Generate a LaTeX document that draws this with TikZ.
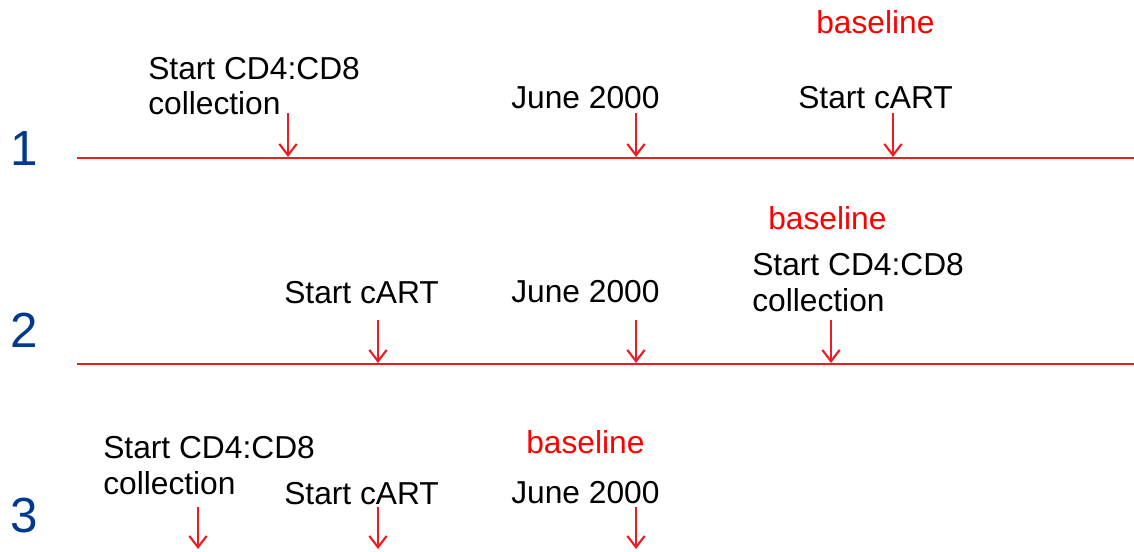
\documentclass[tikz,border=0pt]{standalone}
\usepackage{fontspec}
\setmainfont{Liberation Sans}
\usetikzlibrary{arrows.meta}
\definecolor{lred}{RGB}{237,28,36}
\definecolor{bred}{RGB}{255,0,0}
\definecolor{nblue}{RGB}{0,58,140}
\begin{document}
\begin{tikzpicture}[x=0.75pt,y=-0.75pt,
  lbl/.style={anchor=base west,inner sep=0pt,font=\fontsize{23.8}{28}\selectfont},
  base/.style={lbl,text=bred},
  num/.style={anchor=base west,inner sep=0pt,text=nblue,font=\fontsize{37}{40}\selectfont},
  tline/.style={draw=lred,line width=1.6pt},
  marker/.style={draw=lred,line width=1.6pt,-{Straight Barb[length=8.5pt,width=13pt,line width=1.6pt]}}]
\useasboundingbox (0,0) rectangle (1134,551);
% row 1
\node[num] (n1) at (10,165) {1};
\coordinate (l1s) at (77,158);
\coordinate (l1e) at (1134,158);
\draw[tline] (l1s) -- (l1e);
\node[lbl] (a1) at (148,79) {Start CD4:CD8};
\node[lbl] (a1b) at (148,114) {collection};
\node[lbl] (b1) at (511,108) {June 2000};
\node[lbl] (c1) at (798,108) {Start cART};
\node[base] (d1) at (816,33) {baseline};
\coordinate (p1a) at (288,113); \coordinate (q1a) at (288,157);
\coordinate (p1b) at (636,113); \coordinate (q1b) at (636,157);
\coordinate (p1c) at (893,113); \coordinate (q1c) at (893,157);
\draw[marker] (p1a) -- (q1a);
\draw[marker] (p1b) -- (q1b);
\draw[marker] (p1c) -- (q1c);
% row 2
\node[num] (n2) at (10,347) {2};
\coordinate (l2s) at (77,364);
\coordinate (l2e) at (1134,364);
\draw[tline] (l2s) -- (l2e);
\node[lbl] (a2) at (284,303) {Start cART};
\node[lbl] (b2) at (511,302) {June 2000};
\node[lbl] (c2) at (752,275) {Start CD4:CD8};
\node[lbl] (c2b) at (752,311) {collection};
\node[base] (d2) at (768,229) {baseline};
\coordinate (p2a) at (378,320); \coordinate (q2a) at (378,363);
\coordinate (p2b) at (636,320); \coordinate (q2b) at (636,363);
\coordinate (p2c) at (831,320); \coordinate (q2c) at (831,363);
\draw[marker] (p2a) -- (q2a);
\draw[marker] (p2b) -- (q2b);
\draw[marker] (p2c) -- (q2c);
% row 3
\node[num] (n3) at (10,532) {3};
\node[lbl] (a3) at (103,458) {Start CD4:CD8};
\node[lbl] (a3b) at (103,494) {collection};
\node[lbl] (b3) at (284,504) {Start cART};
\node[lbl] (c3) at (511,503) {June 2000};
\node[base] (d3) at (526,453) {baseline};
\coordinate (p3a) at (198,507); \coordinate (q3a) at (198,549);
\coordinate (p3b) at (378,507); \coordinate (q3b) at (378,549);
\coordinate (p3c) at (636,507); \coordinate (q3c) at (636,549);
\draw[marker] (p3a) -- (q3a);
\draw[marker] (p3b) -- (q3b);
\draw[marker] (p3c) -- (q3c);
\end{tikzpicture}
\end{document}
